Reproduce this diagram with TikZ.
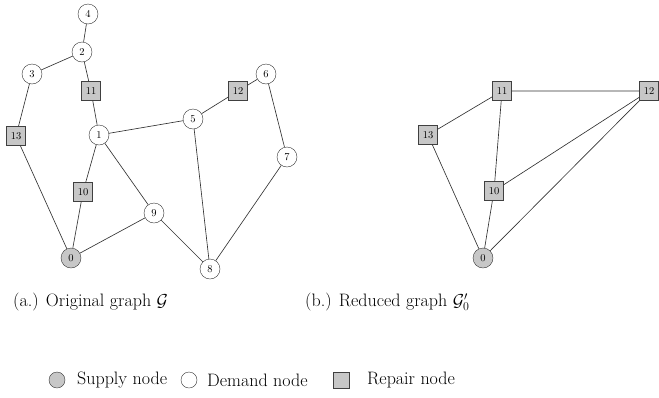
\documentclass[tikz,border=0pt]{standalone}
\usepackage{amsmath}
\begin{document}
\begin{tikzpicture}[x=1pt,y=-1pt,
  dem/.style={circle,draw=black!80,fill=white,minimum size=20pt,inner sep=0pt,font=\fontsize{10.5}{12}\selectfont},
  sup/.style={dem,fill=black!22},
  rep/.style={rectangle,draw=black!75,fill=black!22,minimum size=19pt,inner sep=0pt,font=\fontsize{10.5}{12}\selectfont},
  edge/.style={draw=black!80,line width=0.65pt},
  captxt/.style={font=\fontsize{18}{21}\selectfont,anchor=west,inner sep=0pt}]
\useasboundingbox (0,0) rectangle (659,397);
% left graph
\node[dem] (a4) at (88,14) {4};
\node[dem] (a2) at (82,52) {2};
\node[dem] (a3) at (32,74) {3};
\node[rep] (a11) at (91,91) {11};
\node[rep] (a13) at (16,136) {13};
\node[dem] (a1) at (99,135) {1};
\node[dem] (a5) at (193,119) {5};
\node[rep] (a12) at (238,91) {12};
\node[dem] (a6) at (266,74) {6};
\node[dem] (a7) at (287,157) {7};
\node[rep] (a10) at (83,192) {10};
\node[dem] (a9) at (154,213) {9};
\node[sup] (a0) at (71,258) {0};
\node[dem] (a8) at (210,269) {8};
\draw[edge] (a4)--(a2) (a2)--(a3) (a2)--(a11) (a11)--(a1) (a3)--(a13) (a13)--(a0)
  (a1)--(a10) (a10)--(a0) (a1)--(a5) (a1)--(a9) (a9)--(a0) (a9)--(a8)
  (a5)--(a8) (a5)--(a12) (a12)--(a6) (a6)--(a7) (a7)--(a8);
% right graph
\node[rep] (b11) at (502,91) {11};
\node[rep] (b12) at (649,91) {12};
\node[rep] (b13) at (428,135) {13};
\node[rep] (b10) at (494,191) {10};
\node[sup] (b0) at (483,258) {0};
\draw[edge] (b11)--(b12) (b11)--(b13) (b11)--(b10) (b13)--(b0) (b10)--(b0)
  (b12)--(b10) (b12)--(b0);
% captions
\node[captxt] (ca) at (13,302) {(a.) Original graph $\mathcal{G}$};
\node[captxt] (cb) at (305,302) {(b.) Reduced graph $\mathcal{G}'_0$};
% legend
\node[sup,minimum size=16pt] (l1) at (57,380) {};
\node[captxt] (t1) at (77,380) {Supply node};
\node[dem,minimum size=16pt] (l2) at (189,380) {};
\node[captxt] (t2) at (207,380) {Demand node};
\node[rep,minimum size=16pt] (l3) at (341,380) {};
\node[captxt] (t3) at (367,380) {Repair node};
\end{tikzpicture}
\end{document}
